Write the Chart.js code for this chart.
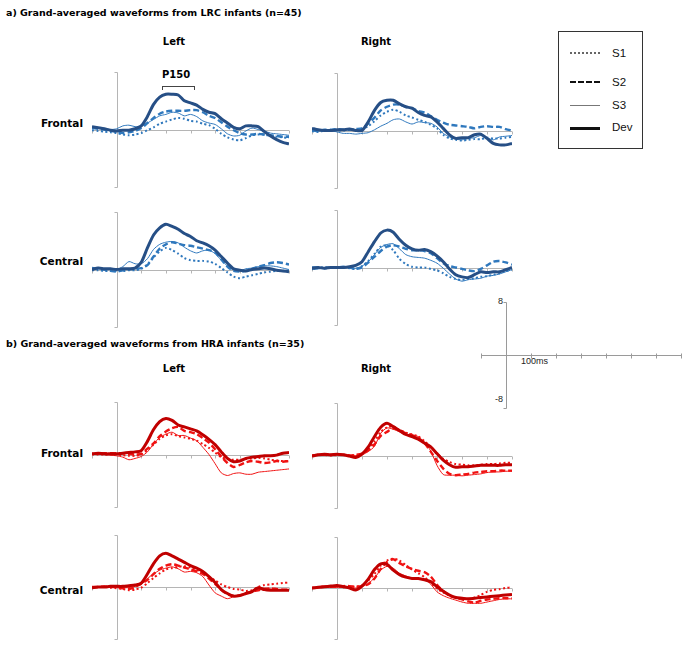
<!DOCTYPE html>
<html>
<head>
<meta charset="utf-8">
<script src="https://cdn.jsdelivr.net/npm/chart.js@4.4.1/dist/chart.umd.min.js"></script>
<style>
  body { margin: 0; background: #fff; }
  #page { position: relative; width: 685px; height: 646px; overflow: hidden; font-family: "DejaVu Sans", Verdana, sans-serif; }
  #page canvas { position: absolute; }
  .lbl { position: absolute; font-weight: bold; font-size: 10.5px; line-height: 12px; white-space: nowrap; color: #000; }
  .ttl { font-size: 9.5px; }
  .side { font-size: 10px; }
  .ctr { transform: translateX(-50%); }
  .rgt { transform: translateX(-100%); }
  .small { position: absolute; font-family: "Liberation Sans", Arial, sans-serif; font-size: 9px; line-height: 10px; color: #222; white-space: nowrap; }
  #legend { position: absolute; left: 558px; top: 31px; width: 83px; height: 116px; border: 1px solid #333; }
  #legend .ln { position: absolute; left: 11px; width: 30px; height: 0; }
  #legend .tx { position: absolute; left: 53px; font-family: "Liberation Sans", Arial, sans-serif; font-size: 11.5px; line-height: 12px; color: #111; }
  .bracket { position: absolute; left: 162px; top: 86px; width: 31px; height: 3px; border: 1px solid #444; border-bottom: none; }
</style>
</head>
<body>
<div id="page">
  <div class="lbl ttl" style="left:6px;top:7px">a) Grand-averaged waveforms from LRC infants (n=45)</div>
  <div class="lbl side ctr" style="left:174px;top:36px">Left</div>
  <div class="lbl side ctr" style="left:376px;top:36px">Right</div>
  <div class="lbl side ctr" style="left:176px;top:69px">P150</div>
  <div class="bracket"></div>
  <div class="lbl rgt" style="left:83px;top:117px">Frontal</div>
  <div class="lbl rgt" style="left:83px;top:255px">Central</div>

  <div class="lbl ttl" style="left:6px;top:338px">b) Grand-averaged waveforms from HRA infants (n=35)</div>
  <div class="lbl side ctr" style="left:174px;top:363px">Left</div>
  <div class="lbl side ctr" style="left:376px;top:363px">Right</div>
  <div class="lbl rgt" style="left:83px;top:447px">Frontal</div>
  <div class="lbl rgt" style="left:83px;top:584px">Central</div>

  <div id="legend">
    <div class="ln" style="top:20px;border-top:2px dotted #666"></div><div class="tx" style="top:15px">S1</div>
    <div class="ln" style="top:49px;border-top:2px dashed #111"></div><div class="tx" style="top:44px">S2</div>
    <div class="ln" style="top:73px;border-top:1.5px solid #777"></div><div class="tx" style="top:67px">S3</div>
    <div class="ln" style="top:95px;border-top:3px solid #111"></div><div class="tx" style="top:89px">Dev</div>
  </div>

  <div class="small" style="left:498px;top:296px">8</div>
  <div class="small" style="left:495px;top:394px">-8</div>
  <div class="small" style="left:521px;top:356px">100ms</div>
</div>

<script>
// time in ms, one sample every 25 ms
const times = [-100, -75, -50, -25, 0, 25, 50, 75, 100, 125, 150, 175, 200, 225, 250, 275, 300,
  325, 350, 375, 400, 425, 450, 475, 500, 525, 550, 575, 600, 625, 650, 675, 700];

// a) LRC infants, amplitudes in microvolts
const lrcFrontalLeftDev = [0.4, 0.25, 0.1, -0.1, -0.2, -0.1, -0.1, 0.1, 0.5, 1.8, 3.5, 4.5, 4.9, 4.9, 4.8, 4.0, 3.7, 3.4, 2.8, 2.4, 2.2, 1.5, 0.9, 0.3, 0.1, 0.5, 0.5, 0.4, -0.3, -0.9, -1.4, -1.8, -2.0];
const lrcFrontalLeftS1 = [-0.1, -0.2, -0.3, -0.4, -0.5, -0.7, -0.8, -0.7, -0.5, -0.1, 0.3, 0.8, 1.1, 1.4, 1.6, 1.5, 1.2, 1.1, 0.8, 0.6, 0.1, -0.6, -1.1, -1.4, -1.5, -1.2, -0.8, -0.7, -0.7, -0.9, -1.0, -1.1, -1.2];
const lrcFrontalLeftS2 = [0.2, 0.1, 0, -0.2, -0.3, -0.5, -0.4, -0.2, 0.2, 0.9, 1.6, 2.2, 2.5, 2.6, 2.6, 2.6, 2.7, 2.7, 2.4, 1.9, 1.6, 1.0, 0.4, -0.1, -0.5, -0.7, -0.7, -0.6, -0.7, -0.8, -0.9, -1.0, -1.0];
const lrcFrontalLeftS3 = [0.4, 0.3, 0.1, 0, 0.1, 0.5, 0.6, 0.4, 0.5, 0.9, 1.4, 1.9, 2.1, 2.4, 2.3, 1.9, 2.1, 1.8, 1.2, 0.9, 0.7, 0.1, -0.6, -0.9, -0.8, -0.2, 0.2, 0, -0.2, -0.5, -0.6, -0.7, -0.8];

const lrcFrontalRightDev = [0.3, 0.1, 0, 0, 0.1, 0.1, 0.2, 0, 0, 1.2, 2.8, 3.9, 4.2, 4.2, 3.7, 3.3, 3.1, 2.5, 2.1, 1.9, 1.2, 0.3, -0.6, -1.1, -1.0, -1.0, -0.6, -0.5, -1.1, -1.8, -2.0, -2.0, -1.8];
const lrcFrontalRightS1 = [-0.1, -0.2, 0, 0, 0, 0, 0.1, 0.1, 0.2, 0.6, 1.3, 2.1, 2.6, 2.9, 2.6, 2.1, 1.8, 1.5, 1.2, 0.8, 0.3, -0.6, -1.1, -1.3, -1.4, -1.3, -1.2, -1.2, -1.0, -1.1, -1.1, -1.0, -0.9];
const lrcFrontalRightS2 = [0.1, -0.1, 0.1, 0.1, 0.2, 0.1, 0.1, 0.2, 0.3, 1.0, 1.8, 2.8, 3.3, 3.6, 3.6, 3.3, 3.1, 2.7, 2.5, 2.0, 1.5, 1.1, 0.8, 0.7, 0.6, 0.5, 0.3, 0.5, 0.6, 0.5, 0.5, 0.2, 0];
const lrcFrontalRightS3 = [0, -0.1, 0.1, 0, -0.2, -0.4, -0.4, -0.5, -0.4, -0.3, 0.1, 0.6, 1.0, 1.5, 1.6, 1.2, 0.9, 1.2, 1.1, 1.0, 0.5, -0.4, -0.9, -1.2, -1.3, -1.1, -1.0, -0.7, -1.0, -1.3, -0.9, -0.8, -0.7];

const lrcCentralLeftDev = [0, 0.2, 0.1, 0.1, 0, 0.1, 0.1, 0.2, 1.0, 3.0, 4.8, 5.8, 6.3, 6.0, 5.6, 5.0, 4.6, 4.0, 3.7, 3.3, 2.7, 1.8, 0.9, 0.1, -0.1, -0.2, 0, 0.1, 0.2, 0.1, -0.1, -0.2, -0.3];
const lrcCentralLeftS1 = [-0.1, -0.1, -0.2, -0.2, -0.2, -0.2, -0.1, -0.1, 0.1, 0.7, 1.7, 2.5, 3.0, 2.7, 2.2, 1.6, 1.3, 1.2, 1.2, 1.1, 0.8, 0.2, -0.4, -1.0, -1.2, -1.0, -0.8, -0.6, -0.4, -0.3, -0.2, -0.2, -0.1];
const lrcCentralLeftS2 = [0.2, 0.1, 0, -0.2, -0.3, -0.1, 0, 0.1, 0.2, 0.6, 1.8, 2.9, 3.5, 3.8, 3.6, 3.4, 3.3, 3.1, 2.9, 2.7, 2.4, 1.4, 0.4, -0.2, -0.3, -0.2, 0.1, 0.4, 0.6, 0.9, 1.0, 0.9, 0.7];
const lrcCentralLeftS3 = [0.2, 0.1, 0.1, 0, 0, 0.4, 1.1, 0.8, 0.8, 1.5, 2.8, 3.5, 3.8, 3.9, 3.7, 3.1, 2.6, 2.3, 2.6, 2.7, 2.2, 1.3, 0.5, -0.1, -0.2, 0.1, 0.2, 0.4, 0.5, 0.5, 0.4, 0.2, 0];

const lrcCentralRightDev = [-0.1, 0, -0.1, 0, 0, 0, 0.1, 0.3, 0.8, 2.2, 3.6, 4.8, 5.2, 4.9, 3.9, 3.1, 2.6, 2.4, 2.5, 2.2, 1.6, 0.8, -0.2, -1.0, -1.3, -1.4, -1.0, -0.6, -0.7, -0.6, -0.6, -0.3, 0];
const lrcCentralRightS1 = [-0.1, 0, 0, 0, 0, 0, -0.1, -0.2, 0.2, 0.9, 1.9, 2.9, 3.1, 2.4, 1.2, 0.5, 0.1, 0, 0, -0.2, -0.4, -0.8, -1.3, -1.6, -1.7, -1.6, -1.5, -1.3, -1.2, -1.0, -0.8, -0.5, -0.3];
const lrcCentralRightS2 = [0, 0, -0.1, 0, 0, 0.1, 0, -0.2, 0, 0.7, 1.5, 2.3, 2.9, 3.1, 2.9, 2.6, 2.4, 2.4, 2.3, 2.0, 1.3, 0.6, 0.2, 0, -0.2, -0.4, -0.5, -0.2, 0.3, 0.8, 0.9, 0.7, 0.4];
const lrcCentralRightS3 = [-0.3, -0.2, 0, 0.1, 0.1, 0, 0, -0.1, 0.2, 0.8, 1.8, 2.8, 3.2, 3.3, 2.6, 1.8, 1.5, 1.4, 1.3, 1.0, 0.6, -0.1, -0.9, -1.6, -1.9, -1.7, -1.6, -1.5, -1.2, -1.1, -0.9, -0.6, -0.3];

// b) HRA infants
const hraFrontalLeftDev = [0.1, 0.2, 0.1, 0.1, 0.1, 0.2, 0.3, 0.4, 0.6, 2.0, 3.8, 5.0, 5.5, 5.2, 4.5, 4.2, 3.9, 3.6, 3.0, 2.3, 1.5, 0.4, -0.6, -1.1, -1.0, -0.6, -0.4, -0.3, -0.2, -0.2, -0.1, 0.2, 0.3];
const hraFrontalLeftS1 = [0, 0, 0, 0, 0, -0.1, -0.2, -0.2, 0, 0.7, 1.5, 2.4, 2.9, 3.1, 2.8, 2.6, 2.4, 2.1, 1.6, 1.0, 0.3, -0.4, -0.7, -0.8, -0.8, -0.7, -0.6, -0.5, -0.6, -0.8, -0.9, -1.0, -1.0];
const hraFrontalLeftS2 = [0.1, 0.1, 0.2, 0.2, 0.2, 0.2, 0.1, 0, 0.1, 0.9, 1.7, 2.8, 3.5, 4.0, 4.2, 3.6, 3.4, 3.1, 2.5, 1.8, 0.8, -0.3, -1.3, -1.9, -1.6, -1.2, -1.0, -1.1, -1.3, -1.2, -1.0, -1.1, -1.0];
const hraFrontalLeftS3 = [0.1, 0, 0, -0.1, -0.2, -0.4, -0.8, -0.6, -0.3, 0.4, 1.6, 2.6, 3.1, 3.4, 2.9, 2.9, 2.5, 2.1, 1.1, 0, -1.4, -2.8, -3.2, -2.9, -2.8, -3.0, -3.0, -2.7, -2.6, -2.5, -2.4, -2.3, -2.2];

const hraFrontalRightDev = [-0.1, 0.1, 0.2, 0.1, 0.2, 0.1, -0.1, -0.3, 0.2, 1.3, 2.9, 4.3, 4.9, 4.4, 3.8, 3.2, 2.9, 2.5, 1.9, 1.3, 0.3, -0.7, -1.4, -1.8, -1.7, -1.7, -1.6, -1.5, -1.5, -1.5, -1.5, -1.4, -1.4];
const hraFrontalRightS1 = [-0.1, 0.1, 0.1, 0, 0.1, 0.1, 0, 0, 0.2, 0.9, 2.2, 3.6, 4.3, 4.4, 3.9, 3.5, 3.2, 2.9, 2.2, 1.3, 0.3, -0.5, -1.0, -1.3, -1.4, -1.5, -1.5, -1.4, -1.3, -1.3, -1.2, -1.1, -1.1];
const hraFrontalRightS2 = [0, 0.1, 0.1, 0.1, 0.2, 0.1, 0, 0.1, 0.3, 0.8, 1.7, 3.0, 3.6, 4.1, 3.9, 3.4, 3.1, 2.6, 1.9, 0.6, -0.8, -2.0, -2.8, -3.0, -2.9, -2.8, -2.6, -2.5, -2.4, -2.4, -2.3, -2.3, -2.3];
const hraFrontalRightS3 = [0, 0.1, 0.1, 0.1, 0.1, 0.1, 0, 0, 0.1, 0.6, 1.4, 3.4, 4.2, 4.0, 3.6, 3.2, 3.0, 2.9, 2.0, 0.7, -1.5, -2.9, -3.0, -3.0, -3.1, -3.0, -2.9, -2.8, -2.6, -2.5, -2.5, -2.4, -2.4];

const hraCentralLeftDev = [-0.1, 0, 0, 0.1, 0.1, 0.1, 0.2, 0.3, 0.6, 2.0, 3.6, 4.8, 5.2, 4.8, 4.3, 3.8, 3.3, 2.9, 2.4, 1.6, 0.7, -0.4, -1.0, -1.4, -1.3, -1.0, -0.7, -0.1, -0.4, -0.5, -0.5, -0.5, -0.5];
const hraCentralLeftS1 = [0, 0, 0, -0.1, -0.2, -0.3, -0.5, -0.4, -0.1, 0.6, 1.4, 2.1, 2.7, 2.9, 3.1, 3.2, 3.0, 2.6, 2.2, 1.6, 1.0, 0.4, 0, -0.3, -0.4, -0.6, -0.5, 0, 0.3, 0.4, 0.5, 0.6, 0.7];
const hraCentralLeftS2 = [0, 0, 0.1, 0, 0, -0.2, -0.3, 0, 0.5, 1.1, 2.0, 2.8, 3.3, 3.5, 3.3, 3.0, 2.7, 2.4, 2.0, 1.3, 0.5, -0.4, -1.1, -1.4, -1.3, -1.0, -0.7, -0.5, -0.3, -0.2, -0.3, -0.4, -0.4];
const hraCentralLeftS3 = [0, 0, 0.1, 0, -0.1, -0.1, -0.1, 0.1, 0.4, 1.3, 2.0, 2.6, 2.9, 3.1, 2.8, 2.3, 2.4, 2.2, 1.6, 0.3, -0.9, -1.4, -1.8, -1.5, -1.3, -1.0, -0.6, -0.4, -0.2, -0.3, -0.4, -0.4, -0.5];

const hraCentralRightDev = [0, 0.1, 0.2, 0.3, 0.4, 0.2, 0, -0.3, 0.3, 1.4, 2.9, 3.8, 3.7, 2.8, 2.1, 1.7, 1.5, 1.5, 1.3, 1.0, 0.2, -0.5, -1.1, -1.5, -1.6, -1.7, -1.6, -1.5, -1.4, -1.3, -1.2, -1.1, -1.0];
const hraCentralRightS1 = [0, 0.1, 0.2, 0.2, 0.3, 0.3, 0.3, 0.2, 0.4, 1.2, 2.2, 3.5, 4.3, 4.6, 4.3, 3.6, 2.9, 2.3, 1.7, 0.8, -0.1, -0.7, -1.2, -1.5, -1.7, -1.7, -1.5, -1.1, -0.6, -0.3, -0.2, 0, 0.1];
const hraCentralRightS2 = [0, 0.1, 0.2, 0.2, 0.2, 0.3, 0.3, 0.2, 0.3, 0.6, 1.5, 3.0, 4.1, 4.5, 3.9, 3.4, 3.0, 2.7, 2.5, 1.8, 0.5, -0.5, -1.2, -1.5, -1.8, -2.1, -2.3, -2.0, -1.8, -1.7, -1.6, -1.6, -1.6];
const hraCentralRightS3 = [0, 0, 0.1, 0.1, 0.1, 0.1, 0.1, 0, 0.2, 0.7, 1.6, 2.8, 3.4, 3.1, 2.3, 1.9, 1.6, 1.5, 1.4, 0.6, -0.6, -1.2, -1.6, -1.9, -2.2, -2.4, -2.4, -2.4, -2.2, -2.0, -1.8, -1.7, -1.7];

const blue = { dev: '#264f86', cond: '#2f78bd' };
const red = { dev: '#c00000', cond: '#f01212' };

const PAD = 6;

// draws the zero line with 100 ms ticks and the vertical axis at stimulus onset
const erpAxes = {
  id: 'erpAxes',
  beforeDatasetsDraw(chart, args, opts) {
    const { ctx, scales: { x, y } } = chart;
    const x0 = Math.round(x.getPixelForValue(0)) + 0.5;
    const y0 = Math.round(y.getPixelForValue(0)) + 0.5;
    const yTop = Math.round(y.getPixelForValue(8)) + 0.5;
    const yBot = Math.round(y.getPixelForValue(-8)) + 0.5;
    ctx.save();
    ctx.strokeStyle = opts.color || '#b5b5b5';
    ctx.lineWidth = 1;
    ctx.beginPath();
    ctx.moveTo(x.left, y0);
    ctx.lineTo(x.right, y0);
    for (let t = -100; t <= 700; t += 100) {
      const px = Math.round(x.getPixelForValue(t)) + 0.5;
      ctx.moveTo(px, y0 - (opts.tickUp || 0));
      ctx.lineTo(px, y0 + 3);
    }
    ctx.moveTo(x0, yTop);
    ctx.lineTo(x0, yBot);
    ctx.moveTo(x0 - 3, yTop);
    ctx.lineTo(x0, yTop);
    ctx.moveTo(x0 - 3, yBot);
    ctx.lineTo(x0, yBot);
    ctx.stroke();
    ctx.restore();
  }
};

function makeCanvas(left, top, w, h) {
  const c = document.createElement('canvas');
  c.width = w + 2 * PAD;
  c.height = h + 2 * PAD;
  c.style.left = (left - PAD) + 'px';
  c.style.top = (top - PAD) + 'px';
  document.getElementById('page').appendChild(c);
  return c;
}

function baseOptions(axisColor, tickUp) {
  return {
    responsive: false,
    animation: false,
    events: [],
    layout: { padding: PAD },
    plugins: { legend: { display: false }, tooltip: { enabled: false }, erpAxes: { color: axisColor, tickUp: tickUp } },
    elements: { point: { radius: 0 }, line: { tension: 0.25 } },
    scales: {
      x: { type: 'linear', min: -100, max: 700, display: false },
      y: { type: 'linear', min: -8, max: 8, display: false }
    }
  };
}

function panel(left, top, w, h, dev, s1, s2, s3, col) {
  const pts = (vals) => times.map((t, i) => ({ x: t, y: vals[i] }));
  new Chart(makeCanvas(left, top, w, h), {
    type: 'line',
    data: {
      datasets: [
        { label: 'Dev', data: pts(dev), borderColor: col.dev, borderWidth: 3 },
        { label: 'S2', data: pts(s2), borderColor: col.cond, borderWidth: 2.4, borderDash: [6, 3] },
        { label: 'S1', data: pts(s1), borderColor: col.cond, borderWidth: 2, borderDash: [2, 2.5] },
        { label: 'S3', data: pts(s3), borderColor: col.cond, borderWidth: 1 }
      ]
    },
    options: baseOptions('#b5b5b5', 0),
    plugins: [erpAxes]
  });
}

panel(92, 72, 197, 115, lrcFrontalLeftDev, lrcFrontalLeftS1, lrcFrontalLeftS2, lrcFrontalLeftS3, blue);
panel(312, 72.5, 200, 115, lrcFrontalRightDev, lrcFrontalRightS1, lrcFrontalRightS2, lrcFrontalRightS3, blue);
panel(92, 212, 197, 115, lrcCentralLeftDev, lrcCentralLeftS1, lrcCentralLeftS2, lrcCentralLeftS3, blue);
panel(312, 210, 200, 115, lrcCentralRightDev, lrcCentralRightS1, lrcCentralRightS2, lrcCentralRightS3, blue);

panel(92, 402, 197, 105, hraFrontalLeftDev, hraFrontalLeftS1, hraFrontalLeftS2, hraFrontalLeftS3, red);
panel(312, 403, 200, 105, hraFrontalRightDev, hraFrontalRightS1, hraFrontalRightS2, hraFrontalRightS3, red);
panel(92, 535, 197, 104, hraCentralLeftDev, hraCentralLeftS1, hraCentralLeftS2, hraCentralLeftS3, red);
panel(312, 537, 200, 102, hraCentralRightDev, hraCentralRightS1, hraCentralRightS2, hraCentralRightS3, red);

// scale bar: 8 / -8 microvolts, 100 ms per tick
new Chart(makeCanvas(481, 302, 200, 106), {
  type: 'line',
  data: { datasets: [] },
  options: baseOptions('#9a9a9a', 2),
  plugins: [erpAxes]
});
</script>
</body>
</html>
